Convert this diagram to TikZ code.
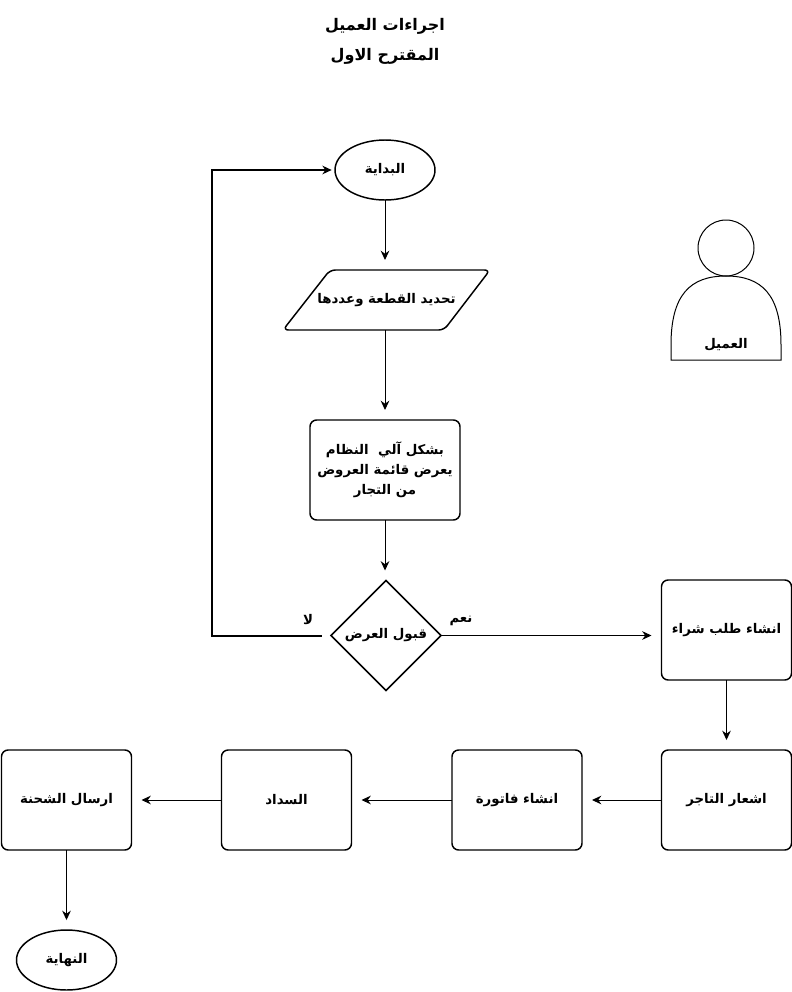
\documentclass[tikz,border=0pt]{standalone}
\usepackage{fontspec}
\usetikzlibrary{arrows.meta,shapes.geometric}
\TeXXeTstate=1
\newfontfamily\arabicfont[Script=Arabic]{DejaVu Sans}
\newcommand{\artx}[1]{\raisebox{-1pt}{\beginR #1\endR}}
\tikzset{
  every node/.style={inner sep=0pt,outer sep=0pt,text=black,align=center,font=\arabicfont\bfseries\fontsize{10}{15}\selectfont},
  shp/.style={draw=black,line width=1.1pt},
  procbox/.style={shp,rectangle,rounded corners=5pt,minimum width=97.5pt,minimum height=75pt},
  wideproc/.style={procbox,minimum width=112.5pt},
  termin/.style={shp,ellipse,minimum width=75pt,minimum height=45pt},
  inputbox/.style={rectangle,minimum width=155pt,minimum height=45pt},
  inputedge/.style={shp,rounded corners=4pt},
  decide/.style={shp,diamond,aspect=1,minimum width=82.5pt,minimum height=82.5pt},
  flow/.style={draw=black,line width=0.75pt,-{Stealth[length=7pt,width=6.5pt]}},
  loopline/.style={draw=black,line width=1.5pt,-{Stealth[length=7pt,width=6.5pt]}},
  titletext/.style={font=\arabicfont\bfseries\fontsize{12}{22.5}\selectfont},
  actorline/.style={draw=black,line width=0.75pt}
}
\begin{document}
\begin{tikzpicture}[x=0.75pt,y=-0.75pt]
\useasboundingbox (0,0) rectangle (792,992);
\node[titletext] (title) at (385,41.5) {\artx{اجراءات العميل}\\\artx{المقترح الاول}};
\node[termin] (s) at (385,170) {\artx{البداية}};
\draw[inputedge] (385,330) -- (283,330) -- (330,270) -- (490,270) -- (444,330) -- cycle;
\node[inputbox] (p) at (386.5,300) {\artx{تحديد القطعة وعددها}};
\node[wideproc] (b) at (385,470) {\artx{بشكل آلي~ النظام}\\\artx{يعرض قائمة العروض}\\\artx{من التجار}};
\node[decide] (d) at (386,635.5) {\artx{قبول العرض}};
\node (no) at (308,620) {\artx{لا}};
\node (yes) at (461,621) {\artx{نعم}};
\node[procbox] (order) at (726.5,630) {\artx{انشاء طلب شراء}};
\node[procbox] (notify) at (726.5,800) {\artx{اشعار التاجر}};
\node[procbox] (invoice) at (517,800) {\artx{انشاء فاتورة}};
\node[procbox] (pay) at (286.5,800) {\artx{السداد}};
\node[procbox] (ship) at (66.5,800) {\artx{ارسال الشحنة}};
\node[termin] (e) at (66.5,960) {\artx{النهاية}};
% actor
\node[actorline,circle,minimum size=42pt] (head) at (726,248) {};
\draw[actorline] (671,360) -- (671,345) .. controls (671,295) and (690,276) .. (726,276) .. controls (762,276) and (781,295) .. (781,345) -- (781,360) -- cycle;
\node (actor) at (726,345) {\artx{العميل}};
% connectors
\coordinate (loopx) at (212,400);
\draw[flow,shorten >=7.5pt] (s.south) -- (s.south |- p.north);
\draw[flow,shorten >=7.5pt] (p.south -| s.south) -- (s.south |- b.north);
\draw[flow,shorten >=7.5pt] (b.south) -- (b.south |- d.north);
\draw[flow,shorten >=7.5pt] (d.east) -- (order.west |- d.east);
\draw[loopline,shorten <=7pt,shorten >=2.5pt] (d.west) -| (loopx) |- (s.west);
\draw[flow,shorten >=7.5pt] (order.south) -- (notify.north);
\draw[flow,shorten >=7.5pt] (notify.west) -- (invoice.east);
\draw[flow,shorten >=7.5pt] (invoice.west) -- (pay.east);
\draw[flow,shorten >=7.5pt] (pay.west) -- (ship.east);
\draw[flow,shorten >=7.5pt] (ship.south) -- (ship.south |- e.north);
\end{tikzpicture}
\end{document}
